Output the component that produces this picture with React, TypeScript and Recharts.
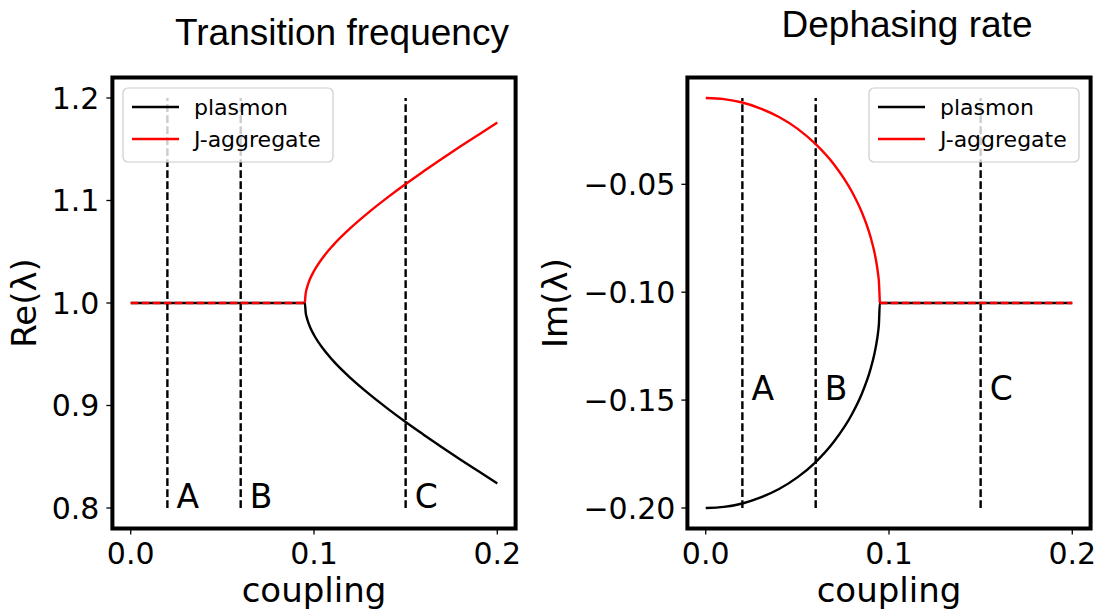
import React from "react";
import {
    ComposedChart,
    Line,
    Scatter,
    XAxis,
    YAxis,
    ReferenceLine,
    ReferenceArea,
    Legend,
} from "recharts";

// ---- data ----
const couplingTicks = [0, 0.1, 0.2];
const reTicks = [0.8, 0.9, 1.0, 1.1, 1.2];
const imTicks = [-0.2, -0.15, -0.1, -0.05];

// Re(λ): degenerate part, then the split branches after the exceptional point
const reFlatX = [0, 0.095];
const reFlatY = [1.0, 1.0];
const reBranchX = [0.095, 0.0955, 0.096, 0.0965, 0.097, 0.098, 0.1, 0.105, 0.11, 0.12, 0.13, 0.14, 0.15, 0.16, 0.17, 0.18, 0.19, 0.2];
const reJaggY = [1.0, 1.0098, 1.0138, 1.017, 1.0196, 1.0241, 1.0312, 1.0447, 1.0555, 1.0733, 1.0887, 1.1028, 1.1161, 1.1287, 1.141, 1.1529, 1.1645, 1.176];
const rePlasmonY = [1.0, 0.9902, 0.9862, 0.983, 0.9804, 0.9759, 0.9688, 0.9553, 0.9445, 0.9267, 0.9113, 0.8972, 0.8839, 0.8713, 0.859, 0.8471, 0.8355, 0.824];

// Im(λ): split half-circle before the exceptional point, then degenerate
const imCircleX = [0, 0.01, 0.02, 0.03, 0.04, 0.05, 0.06, 0.07, 0.08, 0.085, 0.09, 0.092, 0.093, 0.094, 0.0945, 0.095];
const imJaggY = [-0.01, -0.0105, -0.0121, -0.0149, -0.0188, -0.0242, -0.0314, -0.0408, -0.0538, -0.0626, -0.0746, -0.0813, -0.0856, -0.0913, -0.0953, -0.105];
const imPlasmonY = [-0.2, -0.1995, -0.1979, -0.1951, -0.1912, -0.1858, -0.1787, -0.1692, -0.1562, -0.1474, -0.1354, -0.1287, -0.1244, -0.1188, -0.1147, -0.105];
const imFlatX = [0.095, 0.2];
const imFlatY = [-0.105, -0.105];

// marker lines A, B, C
const markerX = [0.02, 0.06, 0.15];
const markerNames = ["A", "B", "C"];
const markerLabelX = [0.025, 0.065, 0.155];
const reMarkerSpan = [0.8, 1.2];
const imMarkerSpan = [-0.2, -0.01];
const reMarkerLabelY = 0.8;
const imMarkerLabelY = -0.15;

const seriesNames = ["plasmon", "J-aggregate"];
const seriesColors = ["#000000", "#ff0000"];

const zip = (xs: number[], ys: number[]) => xs.map((x, i) => ({ x, y: ys[i] }));

const TICK_FONT = { fill: "#000", fontSize: 30, fontFamily: "DejaVu Sans" };
const LABEL_FONT = { fill: "#000", fontSize: 34, fontFamily: "DejaVu Sans" };
const DASH = "7.7 3.3";
const LW = 2.4;

const fmtMinus = (v: number, d: number) => v.toFixed(d).replace("-", "\u2212");

function LegendBox() {
    return (
        <svg width={212} height={76} style={{ display: "block" }}>
            <rect x={1} y={1} width={210} height={74} rx={5} ry={5}
                fill="rgba(255,255,255,0.8)" stroke="#cccccc" strokeWidth={1.2} />
            {seriesNames.map((name, i) => (
                <g key={name}>
                    <line x1={10} x2={57} y1={20 + i * 32} y2={20 + i * 32}
                        stroke={seriesColors[i]} strokeWidth={LW} />
                    <text x={72} y={20 + i * 32} dy="0.36em" fontSize={22}
                        fontFamily="DejaVu Sans" fill="#000">{name}</text>
                </g>
            ))}
        </svg>
    );
}

const markerShape = (props: any) => (
    <text x={props.cx} y={props.cy} fontSize={33} fontFamily="DejaVu Sans" fill="#000">
        {props.payload.t}
    </text>
);

function RePanel() {
    const plasmon = [...zip(reFlatX, reFlatY), ...zip(reBranchX, rePlasmonY).slice(1)];
    const jagg = zip(reBranchX, reJaggY);
    const flat = zip(reFlatX, reFlatY);
    const labels = markerLabelX.map((x, i) => ({ x, y: reMarkerLabelY, t: markerNames[i] }));
    return (
        <ComposedChart width={550} height={610} margin={{ top: 77.5, right: 34.4, bottom: 0, left: 0 }}>
            <XAxis dataKey="x" type="number" domain={[-0.01, 0.21]} ticks={couplingTicks}
                allowDataOverflow height={81.5} tickSize={6} tickMargin={8}
                tickFormatter={(v) => v.toFixed(1)} axisLine={false}
                tickLine={{ stroke: "#000", strokeWidth: 1.3 }} tick={TICK_FONT}
                label={{ value: "coupling", position: "insideBottom", offset: 8, style: LABEL_FONT }} />
            <YAxis type="number" domain={[0.78, 1.22]} ticks={reTicks} allowDataOverflow
                width={112.4} tickSize={6} tickMargin={7} axisLine={false}
                tickFormatter={(v) => v.toFixed(1)}
                tickLine={{ stroke: "#000", strokeWidth: 1.3 }} tick={TICK_FONT}
                label={{ value: "Re(\u03bb)", angle: -90, position: "insideLeft", offset: 24, style: { ...LABEL_FONT, textAnchor: "middle" } }} />
            <ReferenceArea x1={-0.01} x2={0.21} y1={0.78} y2={1.22} fill="none"
                stroke="#000" strokeWidth={4} ifOverflow="visible" />
            {markerX.map((x) => (
                <ReferenceLine key={x} segment={[{ x, y: reMarkerSpan[0] }, { x, y: reMarkerSpan[1] }]}
                    stroke="#000" strokeWidth={LW} strokeDasharray={DASH} />
            ))}
            <Line data={plasmon} dataKey="y" type="monotone" stroke={seriesColors[0]} strokeWidth={LW}
                dot={false} isAnimationActive={false} />
            <Line data={jagg} dataKey="y" type="monotone" stroke={seriesColors[1]} strokeWidth={LW}
                dot={false} isAnimationActive={false} />
            <Line data={flat} dataKey="y" type="linear" stroke={seriesColors[1]} strokeWidth={LW}
                strokeDasharray={DASH} dot={false} isAnimationActive={false} />
            <Scatter data={labels} dataKey="y" shape={markerShape} isAnimationActive={false} />
            <Legend layout="horizontal" verticalAlign="middle" content={() => <LegendBox />}
                wrapperStyle={{ left: 122, top: 87, width: 212, height: 76 }} />
        </ComposedChart>
    );
}

function ImPanel() {
    const plasmon = [...zip(imCircleX, imPlasmonY), ...zip(imFlatX, imFlatY).slice(1)];
    const jagg = zip(imCircleX, imJaggY);
    const flat = zip(imFlatX, imFlatY);
    const labels = markerLabelX.map((x, i) => ({ x, y: imMarkerLabelY, t: markerNames[i] }));
    return (
        <ComposedChart width={579} height={610} margin={{ top: 77.5, right: 8.4, bottom: 0, left: 0 }}>
            <XAxis dataKey="x" type="number" domain={[-0.01, 0.21]} ticks={couplingTicks}
                allowDataOverflow height={81.5} tickSize={6} tickMargin={8}
                tickFormatter={(v) => v.toFixed(1)} axisLine={false}
                tickLine={{ stroke: "#000", strokeWidth: 1.3 }} tick={TICK_FONT}
                label={{ value: "coupling", position: "insideBottom", offset: 8, style: LABEL_FONT }} />
            <YAxis type="number" domain={[-0.2095, -0.0005]} ticks={imTicks} allowDataOverflow
                width={167.4} tickSize={6} tickMargin={6} axisLine={false}
                tickFormatter={(v) => fmtMinus(v, 2)}
                tickLine={{ stroke: "#000", strokeWidth: 1.3 }} tick={TICK_FONT}
                label={{ value: "Im(\u03bb)", angle: -90, position: "insideLeft", offset: 35, style: { ...LABEL_FONT, textAnchor: "middle" } }} />
            <ReferenceArea x1={-0.01} x2={0.21} y1={-0.2095} y2={-0.0005} fill="none"
                stroke="#000" strokeWidth={4} ifOverflow="visible" />
            {markerX.map((x) => (
                <ReferenceLine key={x} segment={[{ x, y: imMarkerSpan[0] }, { x, y: imMarkerSpan[1] }]}
                    stroke="#000" strokeWidth={LW} strokeDasharray={DASH} />
            ))}
            <Line data={plasmon} dataKey="y" type="monotone" stroke={seriesColors[0]} strokeWidth={LW}
                dot={false} isAnimationActive={false} />
            <Line data={jagg} dataKey="y" type="monotone" stroke={seriesColors[1]} strokeWidth={LW}
                dot={false} isAnimationActive={false} />
            <Line data={flat} dataKey="y" type="linear" stroke={seriesColors[1]} strokeWidth={LW}
                strokeDasharray={DASH} dot={false} isAnimationActive={false} />
            <Scatter data={labels} dataKey="y" shape={markerShape} isAnimationActive={false} />
            <Legend layout="horizontal" verticalAlign="middle" content={() => <LegendBox />}
                wrapperStyle={{ left: 348, top: 87, width: 212, height: 76 }} />
        </ComposedChart>
    );
}

const titleStyle: React.CSSProperties = {
    position: "absolute",
    width: 400,
    textAlign: "center",
    fontFamily: "Liberation Sans",
    fontSize: 37,
    lineHeight: "37px",
    color: "#000",
    whiteSpace: "nowrap",
};

export default function App() {
    return (
        <div style={{ position: "absolute", left: 0, top: 0, width: 1099, height: 610, background: "#fff", overflow: "hidden" }}>
            <div style={{ ...titleStyle, left: 342 - 200, top: 14 }}>Transition frequency</div>
            <div style={{ ...titleStyle, left: 907 - 200, top: 6 }}>Dephasing rate</div>
            <div style={{ position: "absolute", left: 0, top: 0 }}>
                <RePanel />
            </div>
            <div style={{ position: "absolute", left: 520, top: 0 }}>
                <ImPanel />
            </div>
        </div>
    );
}
